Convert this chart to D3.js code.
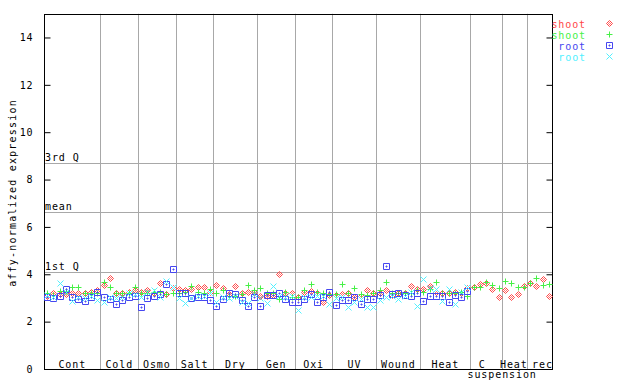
<!DOCTYPE html>
<html><head><meta charset="utf-8">
<script src="https://cdn.jsdelivr.net/npm/d3@7"></script>
<style>
body{margin:0;background:#fff;}
svg text{font-family:"DejaVu Sans Mono",monospace;font-size:10px;letter-spacing:0.9px;}
</style></head>
<body><svg id="c" width="640" height="384"></svg>
<script>
const groups = ["Cont","Cold","Osmo","Salt","Dry","Gen","Oxi","UV","Wound","Heat","C","Heat","rec"];
const groupSizes = [9,6,6,6,7,6,6,7,7,8,5,4,4];
const yTicks = [0,2,4,6,8,10,12,14];
const quartiles = [["3rd Q",8.70],["mean",6.63],["1st Q",4.08]];
const seriesNames = ["shoot","shoot","root","root"];
const shootA = [3.08,3.22,3.15,3.15,3.22,3.22,3.22,3.27,3.34,3.56,3.84,3.20,3.22,3.27,3.34,3.27,3.34,3.20,3.62,3.17,3.41,3.36,3.34,3.36,3.45,3.45,3.27,3.56,3.41,3.15,3.50,3.20,3.27,3.27,3.10,3.10,3.13,4.00,3.22,3.22,3.05,3.27,3.31,3.20,2.82,3.13,3.13,3.17,3.20,3.03,3.10,3.34,3.22,3.22,3.34,3.13,3.20,3.20,3.50,3.36,3.36,3.50,3.27,3.22,3.22,3.27,3.22,3.41,3.48,3.58,3.65,3.36,3.03,3.34,3.03,3.17,3.50,3.65,3.50,3.79,3.08];
const shootB = [3.20,3.12,3.31,3.31,3.48,3.48,3.22,3.20,3.20,3.66,3.45,3.22,3.22,3.22,3.48,3.20,3.20,3.27,3.27,3.17,3.20,3.20,3.27,3.52,3.27,3.20,3.36,3.20,3.34,3.08,3.10,3.15,3.55,3.34,3.41,3.20,3.20,2.94,3.27,3.05,3.05,3.34,3.58,3.27,3.20,3.17,3.17,3.59,3.22,3.41,3.17,3.13,3.20,3.34,3.66,3.20,3.22,3.22,3.22,3.34,3.27,3.36,3.67,3.22,3.22,3.22,3.27,3.08,3.45,3.48,3.67,3.53,3.43,3.72,3.65,3.45,3.45,3.62,3.83,3.55,3.58];
const rootA = [3.03,2.98,3.08,3.37,3.03,2.94,2.88,3.05,3.27,3.03,2.94,2.73,2.91,3.03,3.08,2.60,2.98,3.08,3.17,3.59,4.21,3.20,3.20,2.98,3.03,3.05,2.91,2.66,2.94,3.20,3.17,2.91,2.66,3.03,2.68,3.13,3.13,3.20,2.94,2.82,2.82,2.94,3.17,2.82,3.05,3.27,2.70,2.91,2.91,3.05,2.74,2.94,2.94,3.13,4.35,3.17,3.20,3.13,3.08,3.22,2.87,3.08,3.08,3.08,2.82,3.13,3.03,3.31];
const rootB = [3.12,3.05,3.62,3.25,2.88,3.05,3.00,3.10,2.91,2.82,3.05,2.98,3.05,3.20,3.15,3.05,3.27,3.34,3.05,3.72,3.45,2.98,2.80,2.98,3.10,3.10,3.20,2.84,3.05,3.00,3.10,2.84,2.80,3.15,2.98,2.80,3.52,3.10,3.05,3.10,2.49,3.05,3.05,3.10,3.10,2.74,3.00,3.05,2.63,2.84,2.94,2.63,2.63,2.91,3.05,3.10,2.94,3.10,3.27,2.66,3.79,3.40,3.36,2.89,3.36,2.73,3.27,3.45];

const colors = ["#ff4646","#46f046","#4646f0","#50f0ff"];
const svg = d3.select("#c");
const N = d3.sum(groupSizes);
const L=44, R=552, T=13.8, B=369;
const x = d3.scaleBand().domain(d3.range(N)).range([L,R]);
const y = d3.scaleLinear().domain([0,15]).range([B,T]);
const cx = i => Math.round(x(i)+x.bandwidth()/2)+0.5;
const cy = v => Math.round(y(v))+0.5;

const starts = [];
let acc=0; groupSizes.forEach(s=>{starts.push(acc); acc+=s;});
svg.append("g").selectAll("line").data(starts.slice(1)).join("line")
  .attr("x1",d=>Math.round(x(d))+0.5).attr("x2",d=>Math.round(x(d))+0.5)
  .attr("y1",T).attr("y2",B).attr("stroke","#a8a8a8").attr("stroke-width",1);

const q = svg.append("g");
quartiles.forEach(([lab,v])=>{
  q.append("line").attr("x1",L).attr("x2",R).attr("y1",cy(v)).attr("y2",cy(v))
   .attr("stroke","#a8a8a8");
  q.append("text").attr("x",L+1).attr("y",cy(v)-3).text(lab).attr("fill","#000");
});

const ya = svg.append("g").attr("transform",`translate(${L+0.5},0)`)
  .call(d3.axisLeft(y).tickValues(yTicks).tickSize(-6).tickPadding(11).tickFormat(d3.format("d")));
const yr = svg.append("g").attr("transform",`translate(${R+0.5},0)`)
  .call(d3.axisRight(y).tickValues(yTicks).tickSize(-6).tickFormat(""));
[ya,yr].forEach(g=>{g.select(".domain").remove(); g.selectAll("line").attr("stroke","#000");
  g.selectAll("text").attr("font-family","DejaVu Sans Mono").attr("font-size",10).attr("fill","#000");});
svg.append("rect").attr("x",L+0.5).attr("y",Math.round(T)+0.5).attr("width",R-L)
  .attr("height",B-Math.round(T)).attr("fill","none").attr("stroke","#000");

svg.append("text").attr("transform","translate(16,193) rotate(-90)")
  .attr("text-anchor","middle").style("letter-spacing","1.2px").text("affy-normalized expression");

groups.forEach((g,k)=>{
  const c = (x(starts[k]) + x(starts[k]+groupSizes[k]-1)+x.bandwidth())/2;
  if(g==="C"){
    svg.append("text").attr("x",c-4).attr("y",368).attr("text-anchor","middle").text("C");
    svg.append("text").attr("x",c+16).attr("y",378).attr("text-anchor","middle").text("suspension");
  } else {
    const off = (k===11)?-0.5:(k===12?3:0);
    svg.append("text").attr("x",c+off).attr("y",368).attr("text-anchor","middle").text(g);
  }
});

const shapes = [
  "M0,-3L3,0L0,3L-3,0Z M0,-1L1,0L0,1L-1,0Z",
  "M-3,0H3M0,-3V3",
  "M-3,-3H3V3H-3Z M-0.5,-0.5H0.5V0.5H-0.5Z",
  "M-3,-3L3,3M3,-3L-3,3"
];
const data = [shootA,shootB,rootA,rootB];
data.forEach((arr,s)=>{
  svg.append("g").selectAll("path").data(arr).join("path")
    .attr("transform",(v,i)=>`translate(${cx(i)},${cy(v)})`)
    .attr("d",shapes[s]).attr("fill","none").attr("stroke",colors[s]).attr("stroke-width",1);
});

seriesNames.forEach((n,s)=>{
  const ly = 23.5 + s*11;
  svg.append("text").attr("x",586).attr("y",ly+4).attr("text-anchor","end")
    .attr("fill",colors[s]).text(n);
  svg.append("path").attr("transform",`translate(609.5,${ly})`).attr("d",shapes[s])
    .attr("fill","none").attr("stroke",colors[s]);
});
</script></body></html>
